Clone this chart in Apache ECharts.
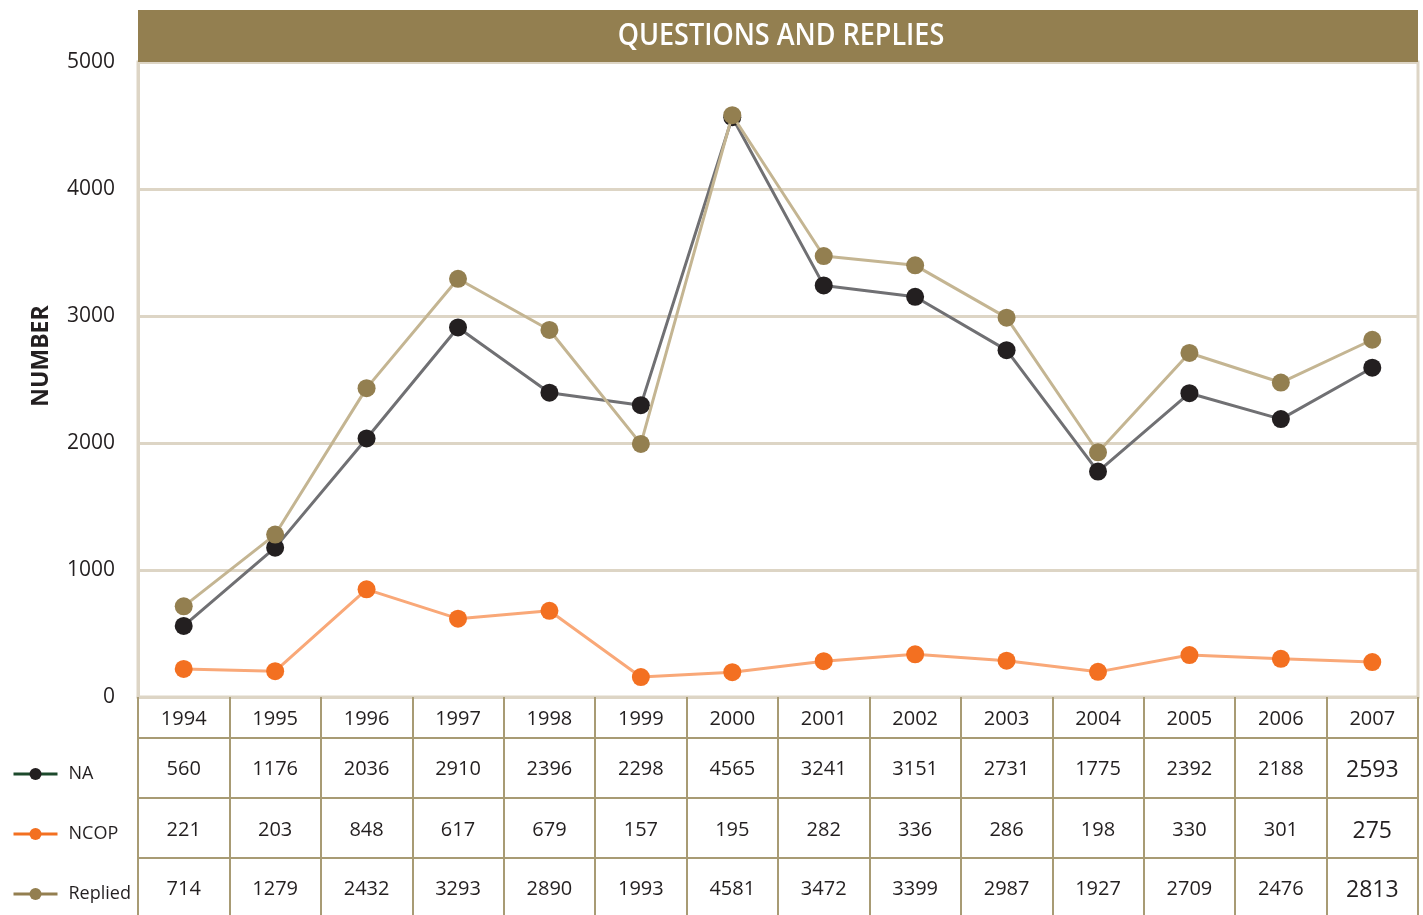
<!DOCTYPE html>
<html>
<head>
<meta charset="utf-8">
<script src="https://cdn.jsdelivr.net/npm/echarts@6/dist/echarts.min.js"></script>
<style>
  html, body { margin: 0; padding: 0; background: #fff; }
  #chart { width: 1423px; height: 915px; }
</style>
</head>
<body>
<div id="chart"></div>
<script>
var years = ['1994', '1995', '1996', '1997', '1998', '1999', '2000', '2001', '2002', '2003', '2004', '2005', '2006', '2007']
var na = [560, 1176, 2036, 2910, 2396, 2298, 4565, 3241, 3151, 2731, 1775, 2392, 2188, 2593]
var ncop = [221, 203, 848, 617, 679, 157, 195, 282, 336, 286, 198, 330, 301, 275]
var replied = [714, 1279, 2432, 3293, 2890, 1993, 4581, 3472, 3399, 2987, 1927, 2709, 2476, 2813]
var yTicks = [0, 1000, 2000, 3000, 4000, 5000]

var gridColor = '#ddd5c5'
var tableColor = '#a89b74'
var textColor = '#231f20'
var font = 'Open Sans'

// last column of the table is printed a bit larger
function cellFormatter(v, i) {
	return i === years.length - 1 ? '{big|' + v + '}' : '{n|' + v + '}'
}
var cellRich = {
	n: { fontSize: 20, color: textColor, fontFamily: font },
	big: { fontSize: 23, color: textColor, fontFamily: font }
}

function rowAxis(values, offset, margin) {
	return {
		type: 'category',
		position: 'bottom',
		offset: offset,
		data: values.map(String),
		axisLine: { show: true, lineStyle: { color: tableColor, width: 2 } },
		axisTick: { show: false },
		axisLabel: { margin: margin, formatter: cellFormatter, rich: cellRich }
	}
}

var chart = echarts.init(document.getElementById('chart'))

var option = {
	backgroundColor: '#fff',
	animation: false,
	textStyle: { fontFamily: font },
	grid: {
		left: 138, right: 5, top: 62, bottom: 218,
		show: true, borderColor: gridColor, borderWidth: 3
	},
	legend: {
		orient: 'vertical',
		left: 7,
		top: 760,
		itemWidth: 44,
		itemHeight: 15,
		itemGap: 42,
		textStyle: { color: textColor, fontSize: 18, fontFamily: font, padding: [0, 0, 0, 6] },
		data: [
			{ name: 'NA', itemStyle: { color: '#231f20' }, lineStyle: { color: '#1d4a2c', width: 3 } },
			{ name: 'NCOP', itemStyle: { color: '#f37021' }, lineStyle: { color: '#f37021', width: 3 } },
			{ name: 'Replied', itemStyle: { color: '#937f50' }, lineStyle: { color: '#937f50', width: 3 } }
		]
	},
	graphic: [
		{
			type: 'rect',
			shape: { x: 138, y: 10, width: 1280, height: 52 },
			style: { fill: '#937f50' },
			z: 100
		},
		{
			// condensed look: squeeze the title horizontally
			type: 'text',
			x: 781, y: 36,
			scaleX: 0.9,
			style: {
				text: 'QUESTIONS AND REPLIES',
				fill: '#fff',
				font: '600 30px "Open Sans"',
				textAlign: 'center',
				textVerticalAlign: 'middle'
			},
			z: 101
		},
		{
			type: 'text',
			x: 41, y: 356,
			rotation: Math.PI / 2,
			style: {
				text: 'NUMBER',
				fill: textColor,
				font: 'bold 23px "Open Sans"',
				textAlign: 'center',
				textVerticalAlign: 'middle'
			}
		}
	],
	xAxis: [
		{
			type: 'category',
			position: 'bottom',
			data: years,
			axisLine: { show: true, lineStyle: { color: gridColor, width: 3 } },
			axisTick: { show: true, length: 218, lineStyle: { color: tableColor, width: 2 } },
			axisLabel: { margin: 12, fontSize: 20, color: textColor, fontFamily: font }
		},
		rowAxis(na, 41, 21),
		rowAxis(ncop, 101, 22),
		rowAxis(replied, 161, 21)
	],
	yAxis: {
		type: 'value',
		min: yTicks[0],
		max: yTicks[yTicks.length - 1],
		interval: 1000,
		axisLine: { show: true, lineStyle: { color: gridColor, width: 3 } },
		axisTick: { show: false },
		axisLabel: {
			margin: 23, fontSize: 21, color: textColor, fontFamily: font,
			formatter: function (v) { return String(v) }
		},
		splitLine: { lineStyle: { color: gridColor, width: 3 } }
	},
	series: [
		{
			name: 'Replied',
			type: 'line',
			data: replied,
			symbol: 'circle',
			symbolSize: 18,
			lineStyle: { color: '#c4b592', width: 3 },
			itemStyle: { color: '#937f50' },
			z: 3
		},
		{
			name: 'NA',
			type: 'line',
			data: na,
			symbol: 'circle',
			symbolSize: 18,
			lineStyle: { color: '#707073', width: 3 },
			itemStyle: { color: '#231f20' },
			z: 2
		},
		{
			name: 'NCOP',
			type: 'line',
			data: ncop,
			symbol: 'circle',
			symbolSize: 18,
			lineStyle: { color: '#f9a878', width: 3 },
			itemStyle: { color: '#f37021' },
			z: 2
		}
	]
}

chart.setOption(option)
</script>
</body>
</html>
